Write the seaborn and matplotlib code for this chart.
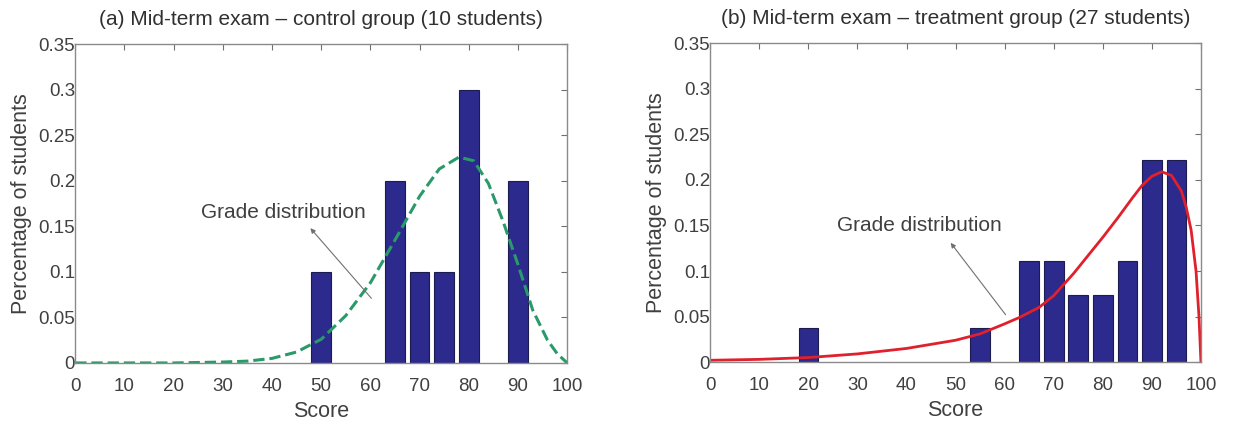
import numpy as np
import pandas as pd
import matplotlib
matplotlib.use('Agg')
import matplotlib.pyplot as plt
import seaborn as sns

# ---- data ----
# (a) control group, 10 students
ctrl_scores = [50, 65, 70, 75, 80, 90]
ctrl_share = [0.1, 0.2, 0.1, 0.1, 0.3, 0.2]
ctrl_curve_x = [0, 10, 20, 25, 30, 35, 40, 45, 50, 55, 60, 65, 70, 74, 78, 81, 84, 87, 90, 93, 96, 98, 100]
ctrl_curve_y = [0.0, 0.0, 0.0, 0.0005, 0.001, 0.002, 0.005, 0.012, 0.026, 0.052, 0.088, 0.135, 0.183,
                0.213, 0.226, 0.222, 0.197, 0.155, 0.108, 0.058, 0.025, 0.010, 0.0]

# (b) treatment group, 27 students
treat_scores = [20, 55, 65, 70, 75, 80, 85, 90, 95]
treat_share = [0.037, 0.037, 0.111, 0.111, 0.074, 0.074, 0.111, 0.222, 0.222]
treat_curve_x = [0, 10, 20, 30, 40, 50, 55, 60, 63, 67, 70, 74, 77, 80, 83, 86, 88, 90, 92, 94,
                 96, 97, 98, 99, 99.6, 100]
treat_curve_y = [0.002, 0.003, 0.005, 0.009, 0.015, 0.024, 0.031, 0.042, 0.049, 0.060, 0.073, 0.097,
                 0.117, 0.137, 0.158, 0.180, 0.194, 0.204, 0.209, 0.205, 0.188, 0.170, 0.145, 0.100,
                 0.050, 0.0]

x_ticks = [0, 10, 20, 30, 40, 50, 60, 70, 80, 90, 100]
y_ticks = [0, 0.05, 0.1, 0.15, 0.2, 0.25, 0.3, 0.35]
y_tick_labels = ['0', '0.05', '0.1', '0.15', '0.2', '0.25', '0.3', '0.35']

titles = ['(a) Mid-term exam \u2013 control group (10 students)',
          '(b) Mid-term exam \u2013 treatment group (27 students)']

sns.set_style('white')
plt.rcParams['font.family'] = ['Liberation Sans', 'DejaVu Sans']

fig = plt.figure(figsize=(12.33, 4.25), dpi=100)
ax1 = fig.add_axes([0.061, 0.146, 0.399, 0.75])
ax2 = fig.add_axes([0.576, 0.148, 0.398, 0.75])

bar_col = '#2c2a8c'
text_col = '#404040'


def style_axes(ax, title):
    ax.set_xlim(0, 100)
    ax.set_ylim(0, 0.35)
    ax.set_xticks(x_ticks)
    ax.set_xticklabels([str(t) for t in x_ticks])
    ax.set_yticks(y_ticks)
    ax.set_yticklabels(y_tick_labels)
    ax.tick_params(direction='in', length=4, width=0.8, color='#707070', top=True, right=True,
                   labelsize=13.5, labelcolor=text_col)
    ax.tick_params(axis='x', pad=11)
    ax.tick_params(axis='y', pad=0)
    for s in ax.spines.values():
        s.set_color('#8a8a8a')
        s.set_linewidth(1.0)
    ax.set_xlabel('Score', fontsize=15.5, color=text_col, labelpad=4)
    ax.set_ylabel('Percentage of students', fontsize=15.5, color=text_col, labelpad=5)
    ax.set_title(title, fontsize=15, color='#303030', pad=14)


# panel (a)
sns.barplot(x=ctrl_scores, y=ctrl_share, native_scale=True, width=0.8, color=bar_col,
            saturation=1, edgecolor='#1c1c50', linewidth=0.8, ax=ax1)
sns.lineplot(x=ctrl_curve_x, y=ctrl_curve_y, color='#2a9a6a', linestyle='--', linewidth=2.2,
             dashes=(3.5, 2.2), ax=ax1)
style_axes(ax1, titles[0])
ax1.text(42.3, 0.165, 'Grade distribution', fontsize=15, color=text_col, ha='center', va='center')
ax1.annotate('', xy=(47.8, 0.148), xytext=(60.2, 0.071),
             arrowprops=dict(arrowstyle='-|>', color='#707070', lw=0.8, mutation_scale=7,
                             shrinkA=0, shrinkB=0))

# panel (b)
sns.barplot(x=treat_scores, y=treat_share, native_scale=True, width=0.8, color=bar_col,
            saturation=1, edgecolor='#1c1c50', linewidth=0.8, ax=ax2)
sns.lineplot(x=treat_curve_x, y=treat_curve_y, color='#e0202c', linewidth=2.0, ax=ax2)
style_axes(ax2, titles[1])
ax2.text(42.7, 0.150, 'Grade distribution', fontsize=15, color=text_col, ha='center', va='center')
ax2.annotate('', xy=(49.0, 0.131), xytext=(60.2, 0.052),
             arrowprops=dict(arrowstyle='-|>', color='#707070', lw=0.8, mutation_scale=7,
                             shrinkA=0, shrinkB=0))

fig.savefig('out.png', dpi=100)
